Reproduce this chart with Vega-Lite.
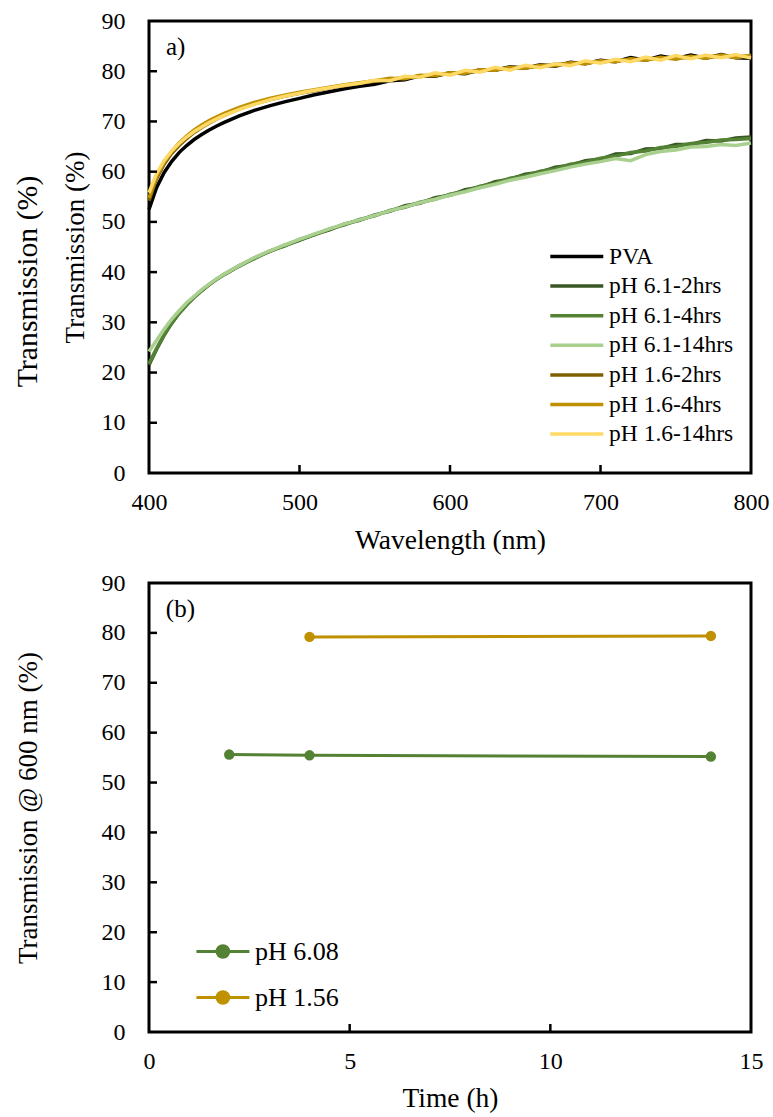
{
"$schema":"https://vega.github.io/schema/vega-lite/v6.json",
"background":"white",
"padding":{"left":10,"top":7,"right":5,"bottom":5},
"bounds":"flush",
"spacing":110,
"resolve":{"scale":{"color":"independent"},"legend":{"color":"independent"}},
"config":{
"font":"Liberation Serif",
"view":{"stroke":"black","strokeWidth":3},
"axis":{"grid":false,"domain":false,"ticks":false,"labelFlush":false,"labelFont":"Liberation Serif","labelFontSize":24,"labelColor":"black","titleFont":"Liberation Serif","titleFontSize":27.5,"titleFontWeight":"normal","titleColor":"black"},
"axisX":{"labelPadding":17,"titlePadding":12},
"axisY":{"labelPadding":24,"titleFontSize":27},
"legend":{"labelFont":"Liberation Serif","labelColor":"black","labelFontSize":23.5,"padding":0,"title":null},
"text":{"font":"Liberation Serif","color":"black"},
"tick":{"color":"black","opacity":1}
},
"vconcat":[
{
"width":602,"height":452,
"layer":[
{"data":{"values":[
{"s":"PVA","w":400,"t":52.5},{"s":"PVA","w":405,"t":56.8},{"s":"PVA","w":410,"t":59.8},{"s":"PVA","w":415,"t":62.0},{"s":"PVA","w":420,"t":63.8},{"s":"PVA","w":425,"t":65.2},{"s":"PVA","w":430,"t":66.4},{"s":"PVA","w":435,"t":67.4},{"s":"PVA","w":440,"t":68.3},{"s":"PVA","w":445,"t":69.1},{"s":"PVA","w":450,"t":69.8},{"s":"PVA","w":460,"t":71.1},{"s":"PVA","w":470,"t":72.2},{"s":"PVA","w":480,"t":73.1},{"s":"PVA","w":490,"t":73.9},{"s":"PVA","w":500,"t":74.6},{"s":"PVA","w":510,"t":75.3},{"s":"PVA","w":520,"t":75.9},{"s":"PVA","w":530,"t":76.5},{"s":"PVA","w":540,"t":77.0},{"s":"PVA","w":550,"t":77.4},{"s":"PVA","w":560,"t":78.1},{"s":"PVA","w":570,"t":78.3},{"s":"PVA","w":580,"t":79.1},{"s":"PVA","w":590,"t":79.0},{"s":"PVA","w":600,"t":79.7},{"s":"PVA","w":610,"t":79.5},{"s":"PVA","w":620,"t":80.3},{"s":"PVA","w":630,"t":80.2},{"s":"PVA","w":640,"t":80.9},{"s":"PVA","w":650,"t":80.6},{"s":"PVA","w":660,"t":81.3},{"s":"PVA","w":670,"t":81.0},{"s":"PVA","w":680,"t":81.8},{"s":"PVA","w":690,"t":81.5},{"s":"PVA","w":700,"t":82.2},{"s":"PVA","w":710,"t":81.9},{"s":"PVA","w":720,"t":82.7},{"s":"PVA","w":730,"t":82.2},{"s":"PVA","w":740,"t":83.0},{"s":"PVA","w":750,"t":82.5},{"s":"PVA","w":760,"t":83.2},{"s":"PVA","w":770,"t":82.6},{"s":"PVA","w":780,"t":83.3},{"s":"PVA","w":790,"t":82.7},{"s":"PVA","w":800,"t":82.6},
{"s":"pH 6.1-2hrs","w":400,"t":21.5},{"s":"pH 6.1-2hrs","w":405,"t":24.6},{"s":"pH 6.1-2hrs","w":410,"t":27.4},{"s":"pH 6.1-2hrs","w":415,"t":29.8},{"s":"pH 6.1-2hrs","w":420,"t":31.8},{"s":"pH 6.1-2hrs","w":425,"t":33.5},{"s":"pH 6.1-2hrs","w":430,"t":35.0},{"s":"pH 6.1-2hrs","w":435,"t":36.3},{"s":"pH 6.1-2hrs","w":440,"t":37.5},{"s":"pH 6.1-2hrs","w":445,"t":38.6},{"s":"pH 6.1-2hrs","w":450,"t":39.5},{"s":"pH 6.1-2hrs","w":460,"t":41.2},{"s":"pH 6.1-2hrs","w":470,"t":42.8},{"s":"pH 6.1-2hrs","w":480,"t":44.1},{"s":"pH 6.1-2hrs","w":490,"t":45.3},{"s":"pH 6.1-2hrs","w":500,"t":46.3},{"s":"pH 6.1-2hrs","w":510,"t":47.5},{"s":"pH 6.1-2hrs","w":520,"t":48.4},{"s":"pH 6.1-2hrs","w":530,"t":49.6},{"s":"pH 6.1-2hrs","w":540,"t":50.3},{"s":"pH 6.1-2hrs","w":550,"t":51.4},{"s":"pH 6.1-2hrs","w":560,"t":52.1},{"s":"pH 6.1-2hrs","w":570,"t":53.2},{"s":"pH 6.1-2hrs","w":580,"t":53.7},{"s":"pH 6.1-2hrs","w":590,"t":54.8},{"s":"pH 6.1-2hrs","w":600,"t":55.3},{"s":"pH 6.1-2hrs","w":610,"t":56.4},{"s":"pH 6.1-2hrs","w":620,"t":56.9},{"s":"pH 6.1-2hrs","w":630,"t":58.0},{"s":"pH 6.1-2hrs","w":640,"t":58.5},{"s":"pH 6.1-2hrs","w":650,"t":59.5},{"s":"pH 6.1-2hrs","w":660,"t":59.9},{"s":"pH 6.1-2hrs","w":670,"t":60.9},{"s":"pH 6.1-2hrs","w":680,"t":61.3},{"s":"pH 6.1-2hrs","w":690,"t":62.2},{"s":"pH 6.1-2hrs","w":700,"t":62.5},{"s":"pH 6.1-2hrs","w":710,"t":63.5},{"s":"pH 6.1-2hrs","w":720,"t":63.6},{"s":"pH 6.1-2hrs","w":730,"t":64.5},{"s":"pH 6.1-2hrs","w":740,"t":64.6},{"s":"pH 6.1-2hrs","w":750,"t":65.4},{"s":"pH 6.1-2hrs","w":760,"t":65.4},{"s":"pH 6.1-2hrs","w":770,"t":66.2},{"s":"pH 6.1-2hrs","w":780,"t":66.1},{"s":"pH 6.1-2hrs","w":790,"t":66.7},{"s":"pH 6.1-2hrs","w":800,"t":66.9},
{"s":"pH 6.1-4hrs","w":400,"t":21.8},{"s":"pH 6.1-4hrs","w":405,"t":24.8},{"s":"pH 6.1-4hrs","w":410,"t":27.5},{"s":"pH 6.1-4hrs","w":415,"t":29.8},{"s":"pH 6.1-4hrs","w":420,"t":31.8},{"s":"pH 6.1-4hrs","w":425,"t":33.5},{"s":"pH 6.1-4hrs","w":430,"t":35.0},{"s":"pH 6.1-4hrs","w":435,"t":36.3},{"s":"pH 6.1-4hrs","w":440,"t":37.5},{"s":"pH 6.1-4hrs","w":445,"t":38.6},{"s":"pH 6.1-4hrs","w":450,"t":39.6},{"s":"pH 6.1-4hrs","w":460,"t":41.3},{"s":"pH 6.1-4hrs","w":470,"t":42.7},{"s":"pH 6.1-4hrs","w":480,"t":44.2},{"s":"pH 6.1-4hrs","w":490,"t":45.2},{"s":"pH 6.1-4hrs","w":500,"t":46.5},{"s":"pH 6.1-4hrs","w":510,"t":47.4},{"s":"pH 6.1-4hrs","w":520,"t":48.6},{"s":"pH 6.1-4hrs","w":530,"t":49.4},{"s":"pH 6.1-4hrs","w":540,"t":50.5},{"s":"pH 6.1-4hrs","w":550,"t":51.2},{"s":"pH 6.1-4hrs","w":560,"t":52.3},{"s":"pH 6.1-4hrs","w":570,"t":52.9},{"s":"pH 6.1-4hrs","w":580,"t":53.9},{"s":"pH 6.1-4hrs","w":590,"t":54.5},{"s":"pH 6.1-4hrs","w":600,"t":55.5},{"s":"pH 6.1-4hrs","w":610,"t":56.1},{"s":"pH 6.1-4hrs","w":620,"t":57.1},{"s":"pH 6.1-4hrs","w":630,"t":57.7},{"s":"pH 6.1-4hrs","w":640,"t":58.7},{"s":"pH 6.1-4hrs","w":650,"t":59.2},{"s":"pH 6.1-4hrs","w":660,"t":60.1},{"s":"pH 6.1-4hrs","w":670,"t":60.6},{"s":"pH 6.1-4hrs","w":680,"t":61.5},{"s":"pH 6.1-4hrs","w":690,"t":61.9},{"s":"pH 6.1-4hrs","w":700,"t":62.7},{"s":"pH 6.1-4hrs","w":710,"t":63.1},{"s":"pH 6.1-4hrs","w":720,"t":63.8},{"s":"pH 6.1-4hrs","w":730,"t":64.1},{"s":"pH 6.1-4hrs","w":740,"t":64.8},{"s":"pH 6.1-4hrs","w":750,"t":65.0},{"s":"pH 6.1-4hrs","w":760,"t":65.6},{"s":"pH 6.1-4hrs","w":770,"t":65.8},{"s":"pH 6.1-4hrs","w":780,"t":66.3},{"s":"pH 6.1-4hrs","w":790,"t":66.4},{"s":"pH 6.1-4hrs","w":800,"t":66.6},
{"s":"pH 6.1-14hrs","w":400,"t":24.2},{"s":"pH 6.1-14hrs","w":405,"t":26.4},{"s":"pH 6.1-14hrs","w":410,"t":28.6},{"s":"pH 6.1-14hrs","w":415,"t":30.6},{"s":"pH 6.1-14hrs","w":420,"t":32.3},{"s":"pH 6.1-14hrs","w":425,"t":33.9},{"s":"pH 6.1-14hrs","w":430,"t":35.2},{"s":"pH 6.1-14hrs","w":435,"t":36.5},{"s":"pH 6.1-14hrs","w":440,"t":37.6},{"s":"pH 6.1-14hrs","w":445,"t":38.7},{"s":"pH 6.1-14hrs","w":450,"t":39.6},{"s":"pH 6.1-14hrs","w":460,"t":41.3},{"s":"pH 6.1-14hrs","w":470,"t":42.9},{"s":"pH 6.1-14hrs","w":480,"t":44.2},{"s":"pH 6.1-14hrs","w":490,"t":45.4},{"s":"pH 6.1-14hrs","w":500,"t":46.5},{"s":"pH 6.1-14hrs","w":510,"t":47.6},{"s":"pH 6.1-14hrs","w":520,"t":48.6},{"s":"pH 6.1-14hrs","w":530,"t":49.6},{"s":"pH 6.1-14hrs","w":540,"t":50.4},{"s":"pH 6.1-14hrs","w":550,"t":51.3},{"s":"pH 6.1-14hrs","w":560,"t":52.2},{"s":"pH 6.1-14hrs","w":570,"t":53.0},{"s":"pH 6.1-14hrs","w":580,"t":53.8},{"s":"pH 6.1-14hrs","w":590,"t":54.5},{"s":"pH 6.1-14hrs","w":600,"t":55.3},{"s":"pH 6.1-14hrs","w":610,"t":56.0},{"s":"pH 6.1-14hrs","w":620,"t":56.8},{"s":"pH 6.1-14hrs","w":630,"t":57.5},{"s":"pH 6.1-14hrs","w":640,"t":58.3},{"s":"pH 6.1-14hrs","w":650,"t":58.9},{"s":"pH 6.1-14hrs","w":660,"t":59.6},{"s":"pH 6.1-14hrs","w":670,"t":60.2},{"s":"pH 6.1-14hrs","w":680,"t":60.9},{"s":"pH 6.1-14hrs","w":690,"t":61.5},{"s":"pH 6.1-14hrs","w":700,"t":62.0},{"s":"pH 6.1-14hrs","w":710,"t":62.6},{"s":"pH 6.1-14hrs","w":720,"t":62.2},{"s":"pH 6.1-14hrs","w":730,"t":63.4},{"s":"pH 6.1-14hrs","w":740,"t":64.0},{"s":"pH 6.1-14hrs","w":750,"t":64.3},{"s":"pH 6.1-14hrs","w":760,"t":64.9},{"s":"pH 6.1-14hrs","w":770,"t":65.0},{"s":"pH 6.1-14hrs","w":780,"t":65.4},{"s":"pH 6.1-14hrs","w":790,"t":65.2},{"s":"pH 6.1-14hrs","w":800,"t":65.7},
{"s":"pH 1.6-2hrs","w":400,"t":54.2},{"s":"pH 1.6-2hrs","w":405,"t":58.6},{"s":"pH 1.6-2hrs","w":410,"t":61.5},{"s":"pH 1.6-2hrs","w":415,"t":63.6},{"s":"pH 1.6-2hrs","w":420,"t":65.2},{"s":"pH 1.6-2hrs","w":425,"t":66.6},{"s":"pH 1.6-2hrs","w":430,"t":67.8},{"s":"pH 1.6-2hrs","w":435,"t":68.8},{"s":"pH 1.6-2hrs","w":440,"t":69.7},{"s":"pH 1.6-2hrs","w":445,"t":70.5},{"s":"pH 1.6-2hrs","w":450,"t":71.2},{"s":"pH 1.6-2hrs","w":460,"t":72.5},{"s":"pH 1.6-2hrs","w":470,"t":73.5},{"s":"pH 1.6-2hrs","w":480,"t":74.3},{"s":"pH 1.6-2hrs","w":490,"t":75.0},{"s":"pH 1.6-2hrs","w":500,"t":75.6},{"s":"pH 1.6-2hrs","w":510,"t":76.1},{"s":"pH 1.6-2hrs","w":520,"t":76.7},{"s":"pH 1.6-2hrs","w":530,"t":77.1},{"s":"pH 1.6-2hrs","w":540,"t":77.6},{"s":"pH 1.6-2hrs","w":550,"t":78.0},{"s":"pH 1.6-2hrs","w":560,"t":78.3},{"s":"pH 1.6-2hrs","w":570,"t":78.8},{"s":"pH 1.6-2hrs","w":580,"t":78.9},{"s":"pH 1.6-2hrs","w":590,"t":79.4},{"s":"pH 1.6-2hrs","w":600,"t":79.4},{"s":"pH 1.6-2hrs","w":610,"t":79.9},{"s":"pH 1.6-2hrs","w":620,"t":80.0},{"s":"pH 1.6-2hrs","w":630,"t":80.5},{"s":"pH 1.6-2hrs","w":640,"t":80.5},{"s":"pH 1.6-2hrs","w":650,"t":80.9},{"s":"pH 1.6-2hrs","w":660,"t":80.9},{"s":"pH 1.6-2hrs","w":670,"t":81.4},{"s":"pH 1.6-2hrs","w":680,"t":81.4},{"s":"pH 1.6-2hrs","w":690,"t":81.8},{"s":"pH 1.6-2hrs","w":700,"t":81.8},{"s":"pH 1.6-2hrs","w":710,"t":82.2},{"s":"pH 1.6-2hrs","w":720,"t":82.2},{"s":"pH 1.6-2hrs","w":730,"t":82.5},{"s":"pH 1.6-2hrs","w":740,"t":82.5},{"s":"pH 1.6-2hrs","w":750,"t":82.8},{"s":"pH 1.6-2hrs","w":760,"t":82.7},{"s":"pH 1.6-2hrs","w":770,"t":83.0},{"s":"pH 1.6-2hrs","w":780,"t":82.9},{"s":"pH 1.6-2hrs","w":790,"t":83.1},{"s":"pH 1.6-2hrs","w":800,"t":82.9},
{"s":"pH 1.6-4hrs","w":400,"t":54.8},{"s":"pH 1.6-4hrs","w":405,"t":59.0},{"s":"pH 1.6-4hrs","w":410,"t":61.9},{"s":"pH 1.6-4hrs","w":415,"t":64.0},{"s":"pH 1.6-4hrs","w":420,"t":65.7},{"s":"pH 1.6-4hrs","w":425,"t":67.1},{"s":"pH 1.6-4hrs","w":430,"t":68.3},{"s":"pH 1.6-4hrs","w":435,"t":69.3},{"s":"pH 1.6-4hrs","w":440,"t":70.2},{"s":"pH 1.6-4hrs","w":445,"t":70.9},{"s":"pH 1.6-4hrs","w":450,"t":71.6},{"s":"pH 1.6-4hrs","w":460,"t":72.8},{"s":"pH 1.6-4hrs","w":470,"t":73.8},{"s":"pH 1.6-4hrs","w":480,"t":74.6},{"s":"pH 1.6-4hrs","w":490,"t":75.2},{"s":"pH 1.6-4hrs","w":500,"t":75.8},{"s":"pH 1.6-4hrs","w":510,"t":76.3},{"s":"pH 1.6-4hrs","w":520,"t":76.8},{"s":"pH 1.6-4hrs","w":530,"t":77.3},{"s":"pH 1.6-4hrs","w":540,"t":77.7},{"s":"pH 1.6-4hrs","w":550,"t":78.1},{"s":"pH 1.6-4hrs","w":560,"t":78.6},{"s":"pH 1.6-4hrs","w":570,"t":78.5},{"s":"pH 1.6-4hrs","w":580,"t":79.2},{"s":"pH 1.6-4hrs","w":590,"t":79.1},{"s":"pH 1.6-4hrs","w":600,"t":79.7},{"s":"pH 1.6-4hrs","w":610,"t":79.6},{"s":"pH 1.6-4hrs","w":620,"t":80.3},{"s":"pH 1.6-4hrs","w":630,"t":80.2},{"s":"pH 1.6-4hrs","w":640,"t":80.8},{"s":"pH 1.6-4hrs","w":650,"t":80.6},{"s":"pH 1.6-4hrs","w":660,"t":81.2},{"s":"pH 1.6-4hrs","w":670,"t":81.1},{"s":"pH 1.6-4hrs","w":680,"t":81.7},{"s":"pH 1.6-4hrs","w":690,"t":81.5},{"s":"pH 1.6-4hrs","w":700,"t":82.1},{"s":"pH 1.6-4hrs","w":710,"t":81.9},{"s":"pH 1.6-4hrs","w":720,"t":82.5},{"s":"pH 1.6-4hrs","w":730,"t":82.2},{"s":"pH 1.6-4hrs","w":740,"t":82.8},{"s":"pH 1.6-4hrs","w":750,"t":82.4},{"s":"pH 1.6-4hrs","w":760,"t":83.0},{"s":"pH 1.6-4hrs","w":770,"t":82.6},{"s":"pH 1.6-4hrs","w":780,"t":83.2},{"s":"pH 1.6-4hrs","w":790,"t":82.7},{"s":"pH 1.6-4hrs","w":800,"t":83.2},
{"s":"pH 1.6-14hrs","w":400,"t":55.8},{"s":"pH 1.6-14hrs","w":405,"t":59.6},{"s":"pH 1.6-14hrs","w":410,"t":62.2},{"s":"pH 1.6-14hrs","w":415,"t":64.1},{"s":"pH 1.6-14hrs","w":420,"t":65.6},{"s":"pH 1.6-14hrs","w":425,"t":66.9},{"s":"pH 1.6-14hrs","w":430,"t":68.0},{"s":"pH 1.6-14hrs","w":435,"t":68.9},{"s":"pH 1.6-14hrs","w":440,"t":69.8},{"s":"pH 1.6-14hrs","w":445,"t":70.5},{"s":"pH 1.6-14hrs","w":450,"t":71.2},{"s":"pH 1.6-14hrs","w":460,"t":72.4},{"s":"pH 1.6-14hrs","w":470,"t":73.4},{"s":"pH 1.6-14hrs","w":480,"t":74.3},{"s":"pH 1.6-14hrs","w":490,"t":75.0},{"s":"pH 1.6-14hrs","w":500,"t":75.6},{"s":"pH 1.6-14hrs","w":510,"t":76.2},{"s":"pH 1.6-14hrs","w":520,"t":76.7},{"s":"pH 1.6-14hrs","w":530,"t":77.2},{"s":"pH 1.6-14hrs","w":540,"t":77.6},{"s":"pH 1.6-14hrs","w":550,"t":78.2},{"s":"pH 1.6-14hrs","w":560,"t":78.1},{"s":"pH 1.6-14hrs","w":570,"t":79.0},{"s":"pH 1.6-14hrs","w":580,"t":78.8},{"s":"pH 1.6-14hrs","w":590,"t":79.7},{"s":"pH 1.6-14hrs","w":600,"t":79.2},{"s":"pH 1.6-14hrs","w":610,"t":80.2},{"s":"pH 1.6-14hrs","w":620,"t":79.8},{"s":"pH 1.6-14hrs","w":630,"t":80.8},{"s":"pH 1.6-14hrs","w":640,"t":80.2},{"s":"pH 1.6-14hrs","w":650,"t":81.2},{"s":"pH 1.6-14hrs","w":660,"t":80.7},{"s":"pH 1.6-14hrs","w":670,"t":81.5},{"s":"pH 1.6-14hrs","w":680,"t":81.1},{"s":"pH 1.6-14hrs","w":690,"t":82.1},{"s":"pH 1.6-14hrs","w":700,"t":81.6},{"s":"pH 1.6-14hrs","w":710,"t":82.4},{"s":"pH 1.6-14hrs","w":720,"t":81.9},{"s":"pH 1.6-14hrs","w":730,"t":82.8},{"s":"pH 1.6-14hrs","w":740,"t":82.2},{"s":"pH 1.6-14hrs","w":750,"t":83.1},{"s":"pH 1.6-14hrs","w":760,"t":82.5},{"s":"pH 1.6-14hrs","w":770,"t":83.2},{"s":"pH 1.6-14hrs","w":780,"t":82.7},{"s":"pH 1.6-14hrs","w":790,"t":83.3},{"s":"pH 1.6-14hrs","w":800,"t":82.6}
]},
"mark":{"type":"line","strokeWidth":3.5},
"encoding":{
"x":{"field":"w","type":"quantitative","scale":{"domain":[400,800],"nice":false},"axis":{"values":[400,500,600,700,800],"title":"Wavelength (nm)"}},
"y":{"field":"t","type":"quantitative","scale":{"domain":[0,90],"nice":false},"axis":{"values":[0,10,20,30,40,50,60,70,80,90],"title":"Transmission (%)","titleX":-60}},
"color":{"field":"s","type":"nominal","scale":{"domain":["PVA","pH 6.1-2hrs","pH 6.1-4hrs","pH 6.1-14hrs","pH 1.6-2hrs","pH 1.6-4hrs","pH 1.6-14hrs"],"range":["#000000","#375623","#548235","#A9D08E","#7F6000","#BF9000","#FFD966"]},
"legend":{"orient":"none","legendX":415.3,"legendY":223,"symbolType":"M-2.5,0H2.5","symbolSize":449,"symbolStrokeWidth":3.5,"labelOffset":19.8,"rowPadding":5.6}}
}},
{"data":{"values":[{"w":500},{"w":600},{"w":700}]},
"mark":{"type":"tick","orient":"vertical","size":8,"thickness":2.5,"yOffset":-4,"color":"black","opacity":1},
"encoding":{"x":{"field":"w","type":"quantitative"},"y":{"datum":0,"type":"quantitative","scale":{"domain":[0,90],"nice":false},"axis":null}}},
{"data":{"values":[{"t":10},{"t":20},{"t":30},{"t":40},{"t":50},{"t":60},{"t":70},{"t":80}]},
"mark":{"type":"tick","orient":"horizontal","size":8,"thickness":2.5,"xOffset":4,"color":"black","opacity":1},
"encoding":{"x":{"datum":400,"type":"quantitative"},"y":{"field":"t","type":"quantitative","scale":{"domain":[0,90],"nice":false},"axis":null}}},
{"data":{"values":[{"lab":"a)","w":411.3,"t":84.8}]},
"mark":{"type":"text","align":"left","baseline":"middle","fontSize":25},
"encoding":{
"x":{"field":"w","type":"quantitative"},
"y":{"field":"t","type":"quantitative","scale":{"domain":[0,90],"nice":false},"axis":{"orient":"left","title":"Transmission (%)","titleFontSize":29.8,"labels":false,"ticks":false,"domain":false,"titleX":-107,"titleY":260}},
"text":{"field":"lab"}
}}
],
"resolve":{"scale":{"y":"independent"}}
},
{
"width":602,"height":449,
"layer":[
{"data":{"values":[
{"ph":"pH 6.08","h":2,"t":55.6},{"ph":"pH 6.08","h":4,"t":55.45},{"ph":"pH 6.08","h":14,"t":55.2},
{"ph":"pH 1.56","h":4,"t":79.2},{"ph":"pH 1.56","h":14,"t":79.4}
]},
"layer":[
{"mark":{"type":"line","strokeWidth":3},
"encoding":{
"x":{"field":"h","type":"quantitative","scale":{"domain":[0,15],"nice":false},"axis":{"values":[0,5,10,15],"title":"Time (h)","titlePadding":11}},
"y":{"field":"t","type":"quantitative","scale":{"domain":[0,90],"nice":false},"axis":{"values":[0,10,20,30,40,50,60,70,80,90],"title":"Transmission @ 600 nm (%)","titleX":-107}},
"color":{"field":"ph","type":"nominal","scale":{"domain":["pH 6.08","pH 1.56"],"range":["#548235","#BF9000"]},
"legend":{"orient":"none","legendX":60.9,"legendY":355.5,"symbolType":"M-2.5,0H2.5M-0.55,0A0.55,0.55 0 1,1 0.55,0A0.55,0.55 0 1,1 -0.55,0Z","symbolSize":449,"symbolStrokeWidth":3,"labelOffset":19,"labelFontSize":26,"rowPadding":20}}
}},
{"mark":{"type":"point","filled":true,"size":110,"opacity":1},
"encoding":{
"x":{"field":"h","type":"quantitative"},
"y":{"field":"t","type":"quantitative"},
"color":{"field":"ph","type":"nominal"}
}}
]},
{"data":{"values":[{"h":5},{"h":10}]},
"mark":{"type":"tick","orient":"vertical","size":8,"thickness":2.5,"yOffset":-4,"color":"black","opacity":1},
"encoding":{"x":{"field":"h","type":"quantitative"},"y":{"datum":0,"type":"quantitative"}}},
{"data":{"values":[{"t":10},{"t":20},{"t":30},{"t":40},{"t":50},{"t":60},{"t":70},{"t":80}]},
"mark":{"type":"tick","orient":"horizontal","size":8,"thickness":2.5,"xOffset":4,"color":"black","opacity":1},
"encoding":{"x":{"datum":0,"type":"quantitative"},"y":{"field":"t","type":"quantitative"}}},
{"data":{"values":[{"lab":"(b)","h":0.42,"t":84.8}]},
"mark":{"type":"text","align":"left","baseline":"middle","fontSize":25},
"encoding":{
"x":{"field":"h","type":"quantitative"},
"y":{"field":"t","type":"quantitative"},
"text":{"field":"lab"}
}}
]
}
]
}
